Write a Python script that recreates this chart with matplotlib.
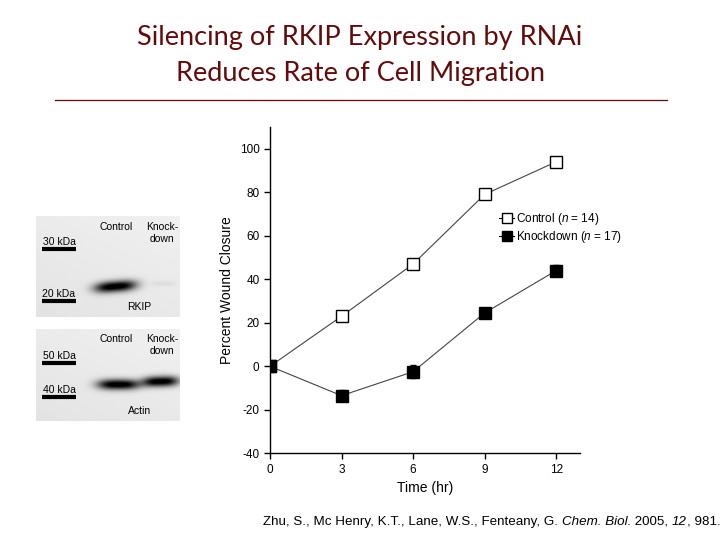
import numpy as np
import matplotlib.pyplot as plt
from matplotlib.lines import Line2D

plt.rcParams['font.family'] = ['Liberation Sans', 'DejaVu Sans']
plt.rcParams['mathtext.fontset'] = 'custom'
plt.rcParams['mathtext.rm'] = 'Liberation Sans'
plt.rcParams['mathtext.it'] = 'Liberation Sans:italic'
plt.rcParams['axes.unicode_minus'] = False

# wound closure data
time_hr = [0, 3, 6, 9, 12]
control = [0, 23, 47, 79, 94]
control_err = [0.5, 1.0, 1.0, 1.2, 1.0]
knockdown = [0, -13.5, -2.5, 24.5, 44]
knockdown_err = [0.5, 2.5, 3.0, 1.5, 2.5]
yticks = [-40, -20, 0, 20, 40, 60, 80, 100]
xticks = [0, 3, 6, 9, 12]

title_color = '#640a0a'

fig = plt.figure(figsize=(7.2, 5.4), dpi=100)

# page overlay in pixel coords for title, rule, blots and citation
page = fig.add_axes([0, 0, 1, 1])
page.axis('off')

page.text(360, 38, 'Silencing of RKIP Expression by RNAi', ha='center', va='center',
          fontsize=19.5, color=title_color, family=['Lato', 'DejaVu Sans'])
page.text(360, 74, 'Reduces Rate of Cell Migration', ha='center', va='center',
          fontsize=19.5, color=title_color, family=['Lato', 'DejaVu Sans'])
page.plot([55, 667], [100, 100], color=title_color, lw=0.9)


def blot(x0, y0, x1, y1, bands):
    xx, yy = np.meshgrid(np.arange(x0, x1), np.arange(y0, y1))
    img = 0.92 - 0.03 * (yy - y0) / (y1 - y0) + 0.02 * (xx - x0) / (x1 - x0)
    for cx, cy, wx, wy, depth, tilt in bands:
        yc = cy + tilt * (xx - cx)
        prof = np.exp(-np.abs((xx - cx) / wx) ** 3) * np.exp(-((yy - yc) / wy) ** 2)
        img = img - depth * prof
    page.imshow(np.clip(img, 0, 1), cmap='gray', vmin=0, vmax=1,
                extent=(x0, x1, y1, y0), interpolation='bilinear', aspect='auto', zorder=1)


blot(36, 216, 180, 317, [(115, 286, 21, 5.5, 1.0, -0.08), (163, 283, 13, 3, 0.05, 0)])
blot(36, 329, 180, 421, [(118, 384, 21, 5.2, 1.0, 0), (160, 381, 18, 5.2, 1.0, -0.03)])
page.set_xlim(0, 720)
page.set_ylim(540, 0)

for y, lab in [(249, '30 kDa'), (301, '20 kDa'), (363, '50 kDa'), (397, '40 kDa')]:
    page.plot([42, 76], [y, y], color='black', lw=3, zorder=2, solid_capstyle='butt')
    page.text(59, y - 2, lab, ha='center', va='bottom', fontsize=7.5, zorder=3)
for ytop in [227, 339]:
    page.text(116, ytop, 'Control', ha='center', va='center', fontsize=7.5, zorder=3)
    page.text(162, ytop, 'Knock-', ha='center', va='center', fontsize=7.5, zorder=3)
    page.text(162, ytop + 12, 'down', ha='center', va='center', fontsize=7.5, zorder=3)
page.text(139, 307, 'RKIP', ha='center', va='center', fontsize=7.5, zorder=3)
page.text(140, 411, 'Actin', ha='center', va='center', fontsize=7.5, zorder=3)

# citation, pieces chained left to right so italics can switch
renderer = fig.canvas.get_renderer()
cite_parts = [('Zhu, S., Mc Henry, K.T., Lane, W.S., Fenteany, G. ', 'normal'),
              ('Chem. Biol.', 'italic'), (' 2005, ', 'normal'), ('12', 'italic'), (', 981.', 'normal')]
cx = 263
for txt, sty in cite_parts:
    t = page.text(cx, 522, txt, ha='left', va='center', fontsize=9.6, style=sty)
    bb = t.get_window_extent(renderer)
    cx += bb.width

# main chart
ax = fig.add_axes([270 / 720, 1 - 453.3 / 540, 310 / 720, 326.3 / 540])
ax.errorbar(time_hr, control, yerr=control_err, color='#444444', lw=0.8, marker='s',
            ms=8, mfc='white', mec='black', mew=1, capsize=2, ecolor='black', elinewidth=0.8, zorder=3)
ax.errorbar(time_hr, knockdown, yerr=knockdown_err, color='#444444', lw=0.8, marker='s',
            ms=8, mfc='black', mec='black', mew=1, capsize=2, ecolor='black', elinewidth=0.8, zorder=4)

ax.set_xlim(0, 13)
ax.set_ylim(-40, 110)
ax.set_xticks(xticks)
ax.set_yticks(yticks)
ax.spines['top'].set_visible(False)
ax.spines['right'].set_visible(False)
ax.spines['left'].set_linewidth(1)
ax.spines['bottom'].set_linewidth(1)
ax.tick_params(direction='out', length=4, width=1, labelsize=8.5)
ax.set_ylabel('Percent Wound Closure', fontsize=10, labelpad=4)
ax.set_xlabel('Time (hr)', fontsize=10, labelpad=4)

handles = [Line2D([], [], color='black', lw=0.8, marker='s', ms=7, mfc='white', mec='black'),
           Line2D([], [], color='black', lw=0.8, marker='s', ms=7, mfc='black', mec='black')]
ax.legend(handles, [r'Control ($\it{n}$ = 14)', r'Knockdown ($\it{n}$ = 17)'],
          loc='upper left', bbox_to_anchor=(0.72, 0.76), frameon=False, fontsize=8.5,
          handlelength=1.3, handletextpad=0.1, labelspacing=0.15, borderpad=0)

fig.savefig('out.png', dpi=100)
